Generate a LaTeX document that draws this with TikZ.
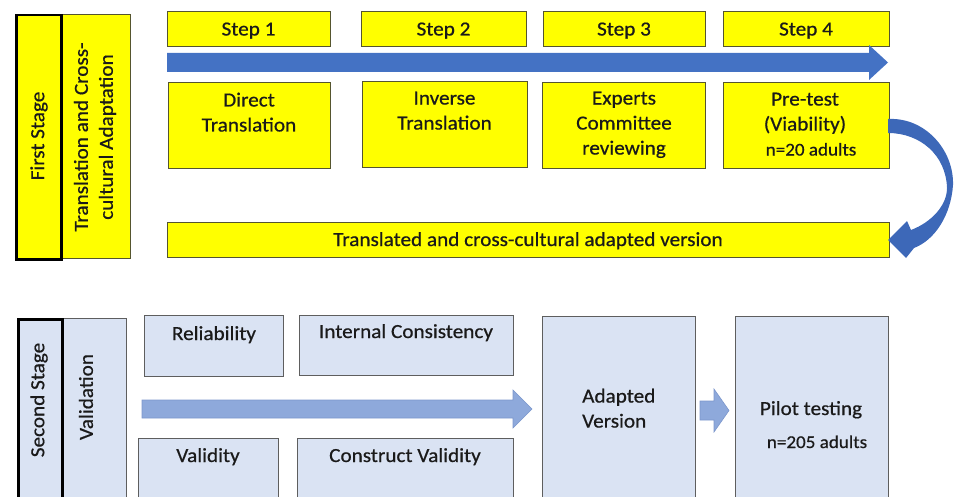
\documentclass[tikz,border=0pt]{standalone}
\usepackage{fontspec}
\setmainfont{Carlito}[FakeStretch=1.06,FakeBold=0.6]
\definecolor{ylw}{HTML}{FFFF00}
\definecolor{yedge}{HTML}{55552F}
\definecolor{lblue}{HTML}{DAE3F3}
\definecolor{bedge}{HTML}{5E5E5E}
\definecolor{arrowblue}{HTML}{4472C4}
\definecolor{curveblue}{HTML}{3D68B8}
\definecolor{arrtwo}{HTML}{8EA9DB}
\definecolor{arrtwoedge}{HTML}{7C97CC}
\definecolor{txtc}{HTML}{1A1A1A}
\begin{document}
\begin{tikzpicture}[x=1pt,y=-1pt,
  ybox/.style={draw=yedge, fill=ylw, line width=1.1pt, anchor=north west, inner sep=0pt},
  bbox/.style={draw=bedge, fill=lblue, line width=0.9pt, anchor=north west, inner sep=0pt},
  stagebox/.style={draw=black, line width=2.5pt, anchor=north west, inner sep=0pt},
  txt/.style={font=\fontsize{20}{25}\selectfont, text=txtc, inner sep=0pt, align=center},
  smalltxt/.style={font=\fontsize{18}{21}\selectfont, text=txtc, inner sep=0pt},
]
\useasboundingbox (0,0) rectangle (955,497);
\clip (0,0) rectangle (955,497);

% ---------- First stage ----------
\node[ybox, minimum width=70pt, minimum height=244pt] (tc) at (60,14) {};
\node[stagebox, fill=ylw, minimum width=45pt, minimum height=244pt] (fs) at (15,14) {};
\node[txt, rotate=90] (fst) at (39,136) {First Stage};
\node[txt, rotate=90] (tct) at (95,137) {Translation and Cross-\\cultural Adaptation};

\node[ybox, minimum width=163pt, minimum height=35pt] (s1) at (167,11) {};
\node[ybox, minimum width=165pt, minimum height=35pt] (s2) at (361,11) {};
\node[ybox, minimum width=162pt, minimum height=35pt] (s3) at (543,11) {};
\node[ybox, minimum width=166pt, minimum height=35pt] (s4) at (723,11) {};
\node[txt, anchor=base] (s1t) at (248.5,35.5) {Step 1};
\node[txt, anchor=base] (s2t) at (443.5,35.5) {Step 2};
\node[txt, anchor=base] (s3t) at (624,35.5) {Step 3};
\node[txt, anchor=base] (s4t) at (806,35.5) {Step 4};

\fill[arrowblue] (167,53) -- (869,53) -- (869,45) -- (888,62.5) -- (869,80) -- (869,72) -- (167,72) -- cycle;

\node[ybox, minimum width=162pt, minimum height=86pt] (d1) at (168,82) {};
\node[ybox, minimum width=165pt, minimum height=86pt] (d2) at (362,81) {};
\node[ybox, minimum width=163pt, minimum height=86pt] (d3) at (542,82) {};
\node[ybox, minimum width=166pt, minimum height=86pt] (d4) at (723,82) {};
\node[txt, anchor=north] (d1t) at (249,92.5) {Direct\\Translation};
\node[txt, anchor=north] (d2t) at (444.5,91.5) {Inverse\\Translation};
\node[txt, anchor=north] (d3t) at (624,91.5) {Experts\\Committee\\reviewing};
\node[txt, anchor=north] (d4t) at (805,92.5) {Pre-test\\(Viability)\\\hspace*{12pt}{\fontsize{18}{21}\selectfont n=20 adults}};

\node[ybox, minimum width=722pt, minimum height=35pt] (tv) at (167,222) {};
\node[txt, anchor=base] (tvt) at (528,246) {Translated and cross-cultural adapted version};

% curved arrow from Pre-test to adapted version
\fill[curveblue] (888,119)
  .. controls (925,117) and (954,150) .. (953,185)
  .. controls (951,215) and (935,240) .. (914,248)
  -- (906,258) -- (888,240) -- (907,221) -- (911,230)
  .. controls (932,222) and (947,205) .. (947,188)
  .. controls (946,155) and (920,133) .. (888,133)
  -- cycle;

% ---------- Second stage ----------
\node[bbox, minimum width=65pt, minimum height=200pt] (va) at (61,318) {};
\node[stagebox, fill=lblue, minimum width=44pt, minimum height=200pt] (ss) at (17,318) {};
\node[txt, rotate=90] (sst) at (39,400) {Second Stage};
\node[txt, rotate=90] (vat) at (86,397) {Validation};

\node[bbox, minimum width=139pt, minimum height=61pt] (rel) at (144,315) {};
\node[bbox, minimum width=214pt, minimum height=60pt] (ic) at (299,315) {};
\node[bbox, minimum width=140pt, minimum height=80pt] (vd) at (138,438) {};
\node[bbox, minimum width=216pt, minimum height=80pt] (cv) at (297,438) {};
\node[txt, anchor=base] (relt) at (214,340) {Reliability};
\node[txt, anchor=base] (ict) at (406,338) {Internal Consistency};
\node[txt, anchor=base] (vdt) at (208,462) {Validity};
\node[txt, anchor=base] (cvt) at (405,462) {Construct Validity};

\filldraw[fill=arrtwo, draw=arrtwoedge, line width=0.6pt] (142,400) -- (513,400) -- (513,390) -- (532,409) -- (513,428) -- (513,418) -- (142,418) -- cycle;

\node[bbox, minimum width=153pt, minimum height=200pt] (av) at (542,316) {};
\node[txt, anchor=north west, align=left] (avt) at (582,388.5) {Adapted\\Version};

\filldraw[fill=arrtwo, draw=arrtwoedge, line width=0.6pt] (700,401) -- (714,401) -- (714,389) -- (729,410.5) -- (714,432) -- (714,420) -- (700,420) -- cycle;

\node[bbox, minimum width=153pt, minimum height=200pt] (pt) at (735,316) {};
\node[txt, anchor=base] (ptt) at (811,415) {Pilot testing};
\node[smalltxt, anchor=base] (ptn) at (817,448) {n=205 adults};
\end{tikzpicture}
\end{document}
